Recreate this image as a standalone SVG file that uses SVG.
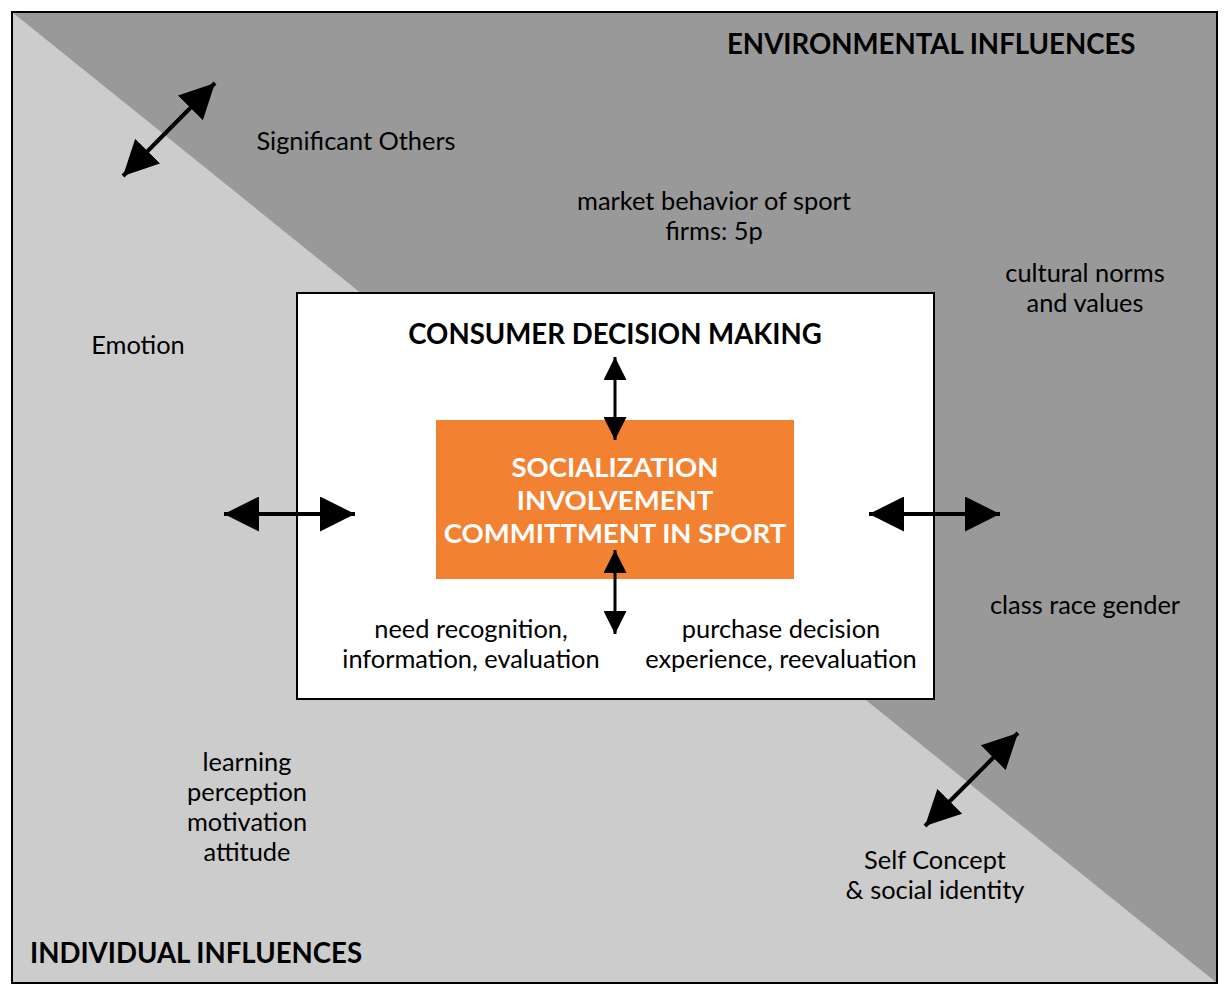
<svg xmlns="http://www.w3.org/2000/svg" width="1230" height="996" viewBox="0 0 1230 996">
<defs>
<style>
.t{font-family:Lato,"Noto Sans",sans-serif;font-size:25.4px;fill:#000;text-anchor:middle}
.h{font-family:Lato,"Noto Sans",sans-serif;font-size:27.6px;font-weight:bold;fill:#000}
.o{font-family:Lato,"Noto Sans",sans-serif;font-size:27.5px;font-weight:bold;fill:#fff;text-anchor:middle}
.big{stroke:#000;stroke-width:4;fill:none}
.sm{stroke:#000;stroke-width:3;fill:none}
</style>
<marker id="ab" viewBox="0 0 10 10" refX="10" refY="5" markerUnits="userSpaceOnUse" markerWidth="35" markerHeight="35" orient="auto-start-reverse"><path d="M0,0 L10,5 L0,10 Z" fill="#000"/></marker>
<marker id="as" viewBox="0 0 10 10" refX="10" refY="5" markerUnits="userSpaceOnUse" markerWidth="23" markerHeight="23" orient="auto-start-reverse"><path d="M0,0 L10,5 L0,10 Z" fill="#000"/></marker>
</defs>
<g id="background">
<rect x="12" y="12" width="1205" height="971" fill="#cccccc"/>
<polygon points="12,12 1217,12 1217,983" fill="#999999"/>
<rect x="12" y="12" width="1205" height="971" fill="none" stroke="#000" stroke-width="2"/>
<text class="h" x="727" y="54">ENVIRONMENTAL INFLUENCES</text>
<text class="h" x="30" y="963">INDIVIDUAL INFLUENCES</text>
</g>
<g id="decision-box">
<rect x="297" y="293" width="637" height="406" fill="#fff" stroke="#000" stroke-width="2"/>
<text class="h" x="615" y="344" text-anchor="middle">CONSUMER DECISION MAKING</text>
</g>
<g id="core">
<rect x="436" y="420" width="358" height="159" fill="#f28232"/>
<text class="o" x="615" y="477">SOCIALIZATION</text>
<text class="o" x="615" y="510">INVOLVEMENT</text>
<text class="o" x="615" y="543">COMMITTMENT IN SPORT</text>
</g>
<g id="labels">
<text class="t" x="356" y="150">Significant Others</text>
<text class="t" x="714" y="210">market behavior of sport</text>
<text class="t" x="714" y="240">firms: 5p</text>
<text class="t" x="1085" y="282">cultural norms</text>
<text class="t" x="1085" y="312">and values</text>
<text class="t" x="138" y="354">Emotion</text>
<text class="t" x="1085" y="614">class race gender</text>
<text class="t" x="471" y="638">need recognition,</text>
<text class="t" x="471" y="668">information, evaluation</text>
<text class="t" x="781" y="638">purchase decision</text>
<text class="t" x="781" y="668">experience, reevaluation</text>
<text class="t" x="247" y="771">learning</text>
<text class="t" x="247" y="801">perception</text>
<text class="t" x="247" y="831">motivation</text>
<text class="t" x="247" y="861">attitude</text>
<text class="t" x="935" y="869">Self Concept</text>
<text class="t" x="935" y="899">&amp; social identity</text>
</g>
<g id="connectors">
<line class="big" x1="123" y1="176" x2="215" y2="83" marker-start="url(#ab)" marker-end="url(#ab)"/>
<line class="big" x1="925" y1="826" x2="1018" y2="733" marker-start="url(#ab)" marker-end="url(#ab)"/>
<line class="big" x1="224" y1="514" x2="355" y2="514" marker-start="url(#ab)" marker-end="url(#ab)"/>
<line class="big" x1="869" y1="514" x2="1000" y2="514" marker-start="url(#ab)" marker-end="url(#ab)"/>
<line class="sm" x1="615" y1="357" x2="615" y2="440" marker-start="url(#as)" marker-end="url(#as)"/>
<line class="sm" x1="615" y1="550" x2="615" y2="634" marker-start="url(#as)" marker-end="url(#as)"/>
</g>
</svg>
